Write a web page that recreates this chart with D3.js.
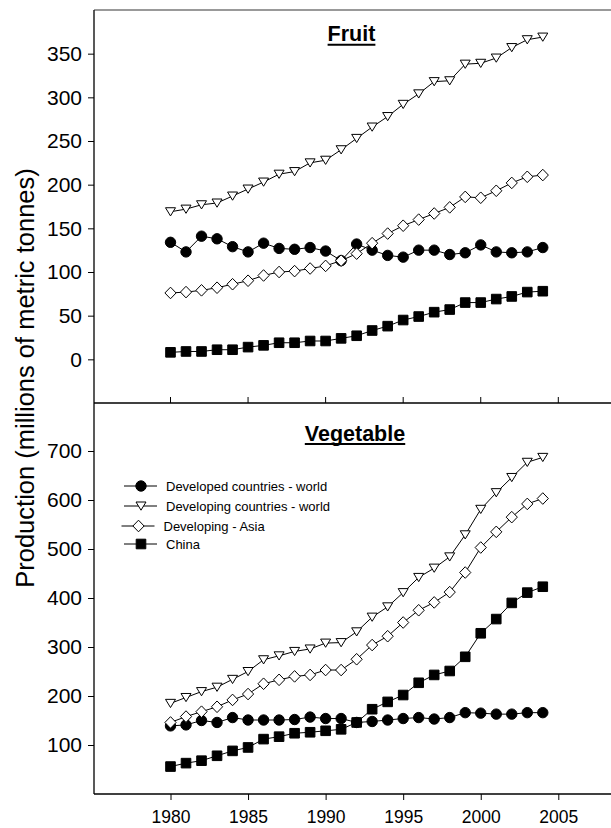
<!DOCTYPE html>
<html>
<head>
<meta charset="utf-8">
<script src="https://cdn.jsdelivr.net/npm/d3@7"></script>
<style>
  html, body { margin: 0; padding: 0; background: #fff; }
  svg { display: block; font-family: "Liberation Sans", Arial, Helvetica, sans-serif; }
</style>
</head>
<body>
<svg id="chart" width="611" height="828"></svg>
<script>
// Fruit and vegetable production, millions of metric tonnes
const years = d3.range(1980, 2005);

const fruitDeveloped       = [134,123,141,138,129,123,133,127,126,128,124,113,132,125,119,117,125,125,120,122,131,123,122,123,128];
const fruitDevelopingWorld = [169,172,177,179,187,195,203,212,215,225,228,240,253,266,278,292,304,318,319,338,339,345,357,366,369];
const fruitDevelopingAsia  = [76,77,79,82,86,90,96,100,101,104,107,113,121,133,144,153,160,167,174,186,185,193,202,209,211];
const fruitChina           = [8,9,9,11,11,14,16,19,19,21,21,24,27,33,38,45,49,54,57,65,65,69,72,77,78];

const vegDeveloped       = [139,141,150,146,156,151,151,151,152,157,154,154,146,148,151,154,156,153,156,166,165,163,163,166,166];
const vegDevelopingWorld = [185,197,209,218,234,250,274,282,291,296,308,309,331,361,382,411,442,461,484,529,581,615,646,677,687];
const vegDevelopingAsia  = [146,158,168,178,192,204,225,233,240,243,253,253,275,304,322,350,375,391,412,452,503,535,565,592,603];
const vegChina           = [56,63,68,78,88,95,112,117,124,126,129,132,146,173,188,202,227,243,251,280,328,357,390,411,423];

const seriesNames = ["Developed countries - world", "Developing countries - world", "Developing - Asia", "China"];
const seriesSymbols = ["circle", "triangle", "diamond", "square"];

const xTicks = [1980, 1985, 1990, 1995, 2000, 2005];
const fruitTicks = [0, 50, 100, 150, 200, 250, 300, 350];
const vegTicks = [100, 200, 300, 400, 500, 600, 700];

const svg = d3.select("#chart");

const axisLeftX = 94, axisRightX = 611;
const x = d3.scaleLinear().domain([1980, 2005]).range([170.5, 558.3]);

const yFruit = d3.scaleLinear().domain([-50, 400]).range([403, 10]);
const yVeg = d3.scaleLinear().domain([0, 800]).range([794, 402]);

// marker glyphs
function symbolPath(kind) {
  switch (kind) {
    case "circle": return d3.symbol(d3.symbolCircle, Math.PI * 5.2 * 5.2)();
    case "square": return "M-4.8,-4.8H4.8V4.8H-4.8Z";
    case "diamond": return "M0,-5.8L5.6,0L0,5.8L-5.6,0Z";
    case "triangle": return "M-5,-4L5,-4L0,4.2Z";
  }
}
const filled = { circle: true, square: true, diamond: false, triangle: false };

function drawSeries(g, y, values, kind) {
  const line = d3.line().x((d, i) => x(years[i])).y(d => y(d));
  g.append("path")
    .attr("d", line(values))
    .attr("fill", "none")
    .attr("stroke", "#000")
    .attr("stroke-width", 1);
  g.selectAll(null)
    .data(values)
    .enter()
    .append("path")
    .attr("transform", (d, i) => `translate(${x(years[i])},${y(d)})`)
    .attr("d", symbolPath(kind))
    .attr("fill", filled[kind] ? "#000" : "#fff")
    .attr("stroke", "#000")
    .attr("stroke-width", 1);
}

// left axis with outward ticks and labels
function drawYAxis(y, ticks) {
  const g = svg.append("g").attr("transform", `translate(${axisLeftX},0)`);
  const axis = d3.axisLeft(y).tickValues(ticks).tickSize(6).tickPadding(6).tickFormat(d3.format("d"));
  g.call(axis);
  g.select(".domain").remove();
  g.selectAll(".tick line").attr("stroke", "#000").attr("stroke-width", 1);
  g.selectAll(".tick text")
    .attr("fill", "#000")
    .style("font-size", "21px")
    .style("font-family", '"Liberation Sans", Arial, sans-serif');
}

// frame
svg.append("line").attr("x1", axisLeftX).attr("x2", axisRightX)
  .attr("y1", yFruit(400)).attr("y2", yFruit(400))
  .attr("stroke", "#777").attr("stroke-width", 1.5);
svg.append("line").attr("x1", axisLeftX).attr("x2", axisLeftX)
  .attr("y1", yFruit(400)).attr("y2", yVeg(0))
  .attr("stroke", "#222").attr("stroke-width", 1.5);

// divider between panels with ticks pointing up into the fruit panel
const midAxis = svg.append("g").attr("transform", `translate(0,${yFruit(-50)})`);
midAxis.append("line").attr("x1", axisLeftX).attr("x2", axisRightX)
  .attr("stroke", "#000").attr("stroke-width", 1.5);
midAxis.selectAll(null).data(xTicks).enter().append("line")
  .attr("x1", d => x(d)).attr("x2", d => x(d)).attr("y1", 0).attr("y2", -6)
  .attr("stroke", "#000").attr("stroke-width", 1);

// bottom axis
const bottom = svg.append("g").attr("transform", `translate(0,${yVeg(0)})`);
bottom.call(d3.axisBottom(x).tickValues(xTicks).tickSize(6).tickPadding(11).tickFormat(d3.format("d")));
bottom.select(".domain").remove();
bottom.append("line").attr("x1", axisLeftX).attr("x2", axisRightX)
  .attr("stroke", "#000").attr("stroke-width", 1.5);
bottom.selectAll(".tick line").attr("stroke", "#000");
bottom.selectAll(".tick text").attr("fill", "#000")
  .style("font-size", "17.5px")
  .style("font-family", '"Liberation Sans", Arial, sans-serif');

drawYAxis(yFruit, fruitTicks);
drawYAxis(yVeg, vegTicks);

// series
const fruitG = svg.append("g");
[fruitDeveloped, fruitDevelopingWorld, fruitDevelopingAsia, fruitChina].forEach((vals, k) =>
  drawSeries(fruitG, yFruit, vals, seriesSymbols[k]));
const vegG = svg.append("g");
[vegDeveloped, vegDevelopingWorld, vegDevelopingAsia, vegChina].forEach((vals, k) =>
  drawSeries(vegG, yVeg, vals, seriesSymbols[k]));

// panel titles, bold and underlined
function panelTitle(text, cx, baseline) {
  const t = svg.append("text")
    .attr("x", cx).attr("y", baseline)
    .attr("text-anchor", "middle")
    .style("font-size", "21.5px")
    .style("font-weight", "bold")
    .text(text);
  const bb = t.node().getBBox();
  svg.append("line")
    .attr("x1", bb.x).attr("x2", bb.x + bb.width)
    .attr("y1", baseline + 3.5).attr("y2", baseline + 3.5)
    .attr("stroke", "#000").attr("stroke-width", 2);
}
panelTitle("Fruit", 351.5, 41.3);
panelTitle("Vegetable", 355, 440.5);

// legend
const legendRows = [486, 506, 526, 544];
const legendShift = [0, 0, -2.5, 0];
const legend = svg.append("g");
seriesNames.forEach((name, k) => {
  const gy = legendRows[k], dx = legendShift[k];
  legend.append("line").attr("x1", 124 + dx).attr("x2", 157 + dx).attr("y1", gy).attr("y2", gy)
    .attr("stroke", "#000").attr("stroke-width", 1);
  legend.append("path")
    .attr("transform", `translate(${141 + dx},${gy})`)
    .attr("d", symbolPath(seriesSymbols[k]))
    .attr("fill", filled[seriesSymbols[k]] ? "#000" : "#fff")
    .attr("stroke", "#000").attr("stroke-width", 1);
  legend.append("text")
    .attr("x", 166 + dx).attr("y", gy)
    .attr("dy", "0.36em")
    .style("font-size", "13px")
    .text(name);
});

// y-axis title
svg.append("text")
  .attr("transform", "translate(34,378) rotate(-90)")
  .attr("text-anchor", "middle")
  .style("font-size", "25.5px")
  .text("Production (millions of metric tonnes)");
</script>
</body>
</html>
